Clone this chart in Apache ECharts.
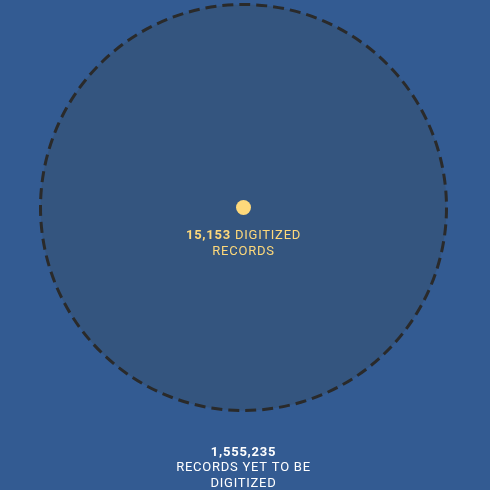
<!DOCTYPE html>
<html><head><meta charset="utf-8">
<script src="https://cdn.jsdelivr.net/npm/echarts@6/dist/echarts.min.js"></script>
<style>html,body{margin:0;padding:0;background:#335b92}#c{width:490px;height:490px}</style>
</head><body><div id="c"></div>
<script>
// letter tracking for canvas text (measurement and drawing stay consistent)
(function () {
  const P = CanvasRenderingContext2D.prototype;
  const d = Object.getOwnPropertyDescriptor(P, 'font');
  if (d && d.set && 'letterSpacing' in P) {
    Object.defineProperty(P, 'font', {
      configurable: true,
      get() { return d.get.call(this); },
      set(v) { d.set.call(this, v); this.letterSpacing = '0.75px'; }
    });
  }
})();
const categories = ['RECORDS YET TO BE\nDIGITIZED', 'DIGITIZED\nRECORDS'];
const values = [1555235, 15153];
const fmt = v => v.toLocaleString('en-US');
const chart = echarts.init(document.getElementById('c'));
const font = 'Roboto, "Noto Sans", sans-serif';
chart.setOption({
  backgroundColor: '#335b92',
  animation: false,
  grid: {left: 0, top: 0, width: 487, height: 415},
  xAxis: {type: 'value', min: -1, max: 1, show: false},
  yAxis: {type: 'value', min: -1, max: 1, show: false},
  series: [
    {
      type: 'scatter',
      z: 1,
      data: [{value: [0, 0], name: categories[0], raw: values[0]}],
      symbolSize: 406,
      itemStyle: {color: '#34557f', borderColor: '#2a2a2a', borderWidth: 3, borderType: [11, 6], opacity: 1},
      label: {
        show: true, position: 'bottom', distance: 32.5, align: 'center',
        formatter: p => '{b|' + fmt(values[0]) + '}\n{t|' + categories[0].replace('\n', '}\n{t|') + '}',
        rich: {
          b: {fontFamily: font, fontSize: 13, fontWeight: 'bold', color: '#ffffff', lineHeight: 15.5, align: 'center'},
          t: {fontFamily: font, fontSize: 13, color: '#ffffff', lineHeight: 15.5, align: 'center'}
        }
      }
    },
    {
      type: 'scatter',
      z: 2,
      data: [{value: [0, 0], name: categories[1], raw: values[1]}],
      symbolSize: 15,
      itemStyle: {color: '#fed97b', opacity: 1},
      label: {
        show: true, position: 'bottom', distance: 13, align: 'center',
        formatter: p => '{b|' + fmt(values[1]) + '} {t|DIGITIZED}\n{t|RECORDS}',
        rich: {
          b: {fontFamily: font, fontSize: 13, fontWeight: 'bold', color: '#fed97b', lineHeight: 16},
          t: {fontFamily: font, fontSize: 13, color: '#fed97b', lineHeight: 16}
        }
      }
    }
  ]
});
</script></body></html>
